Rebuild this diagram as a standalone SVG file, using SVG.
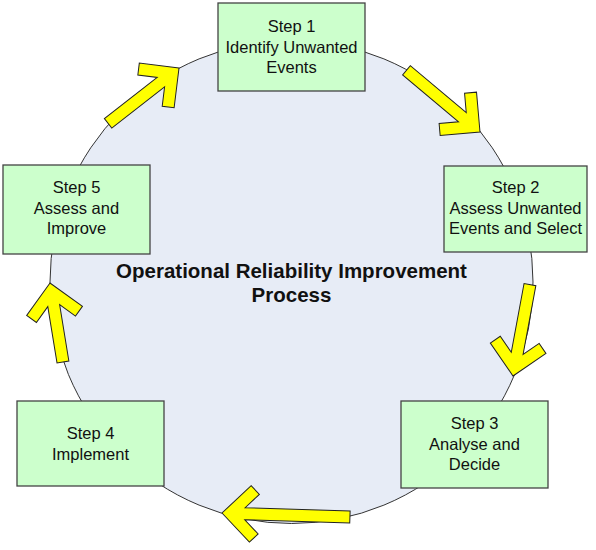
<svg xmlns="http://www.w3.org/2000/svg" width="596" height="550" viewBox="0 0 596 550">
<style>
.bg{fill:#e7ecf6;stroke:#333;stroke-width:1}
.box{fill:#ccffcc;stroke:#444;stroke-width:1.3}
.arr{fill:#ffff00;stroke:#222;stroke-width:1;stroke-linejoin:miter}
.t{font-family:"Liberation Sans",Arial,sans-serif;font-size:16.5px;fill:#111;text-anchor:middle}
.title{font-family:"Liberation Sans",Arial,sans-serif;font-size:20.5px;font-weight:bold;fill:#111;text-anchor:middle}
</style>
<rect width="596" height="550" fill="#ffffff"/>
<g id="process">
<circle class="bg" cx="291.5" cy="282" r="241.5"/>
<text class="title" x="291.5" y="278">Operational Reliability Improvement</text>
<text class="title" x="291.5" y="302">Process</text>
</g>
<g id="connectors">
<polygon class="arr" transform="translate(480,132) rotate(40)" points="0,0 -28.28,-28.28 -36.77,-19.8 -22.97,-6 -96,-6 -96,6 -22.97,6 -36.77,19.8 -28.28,28.28"/>
<polygon class="arr" transform="translate(513,376) rotate(100.5)" points="0,0 -28.28,-28.28 -36.77,-19.8 -22.97,-6 -93,-6 -93,6 -22.97,6 -36.77,19.8 -28.28,28.28"/>
<polygon class="arr" transform="translate(222,513) rotate(181.8)" points="0,0 -28.28,-28.28 -36.77,-19.8 -22.97,-6 -128,-6 -128,6 -22.97,6 -36.77,19.8 -28.28,28.28"/>
<polygon class="arr" transform="translate(50,283) rotate(260.7)" points="0,0 -28.28,-28.28 -36.77,-19.8 -22.97,-6 -80,-6 -80,6 -22.97,6 -36.77,19.8 -28.28,28.28"/>
<polygon class="arr" transform="translate(179,68) rotate(-38)" points="0,0 -28.28,-28.28 -36.77,-19.8 -22.97,-6 -90,-6 -90,6 -22.97,6 -36.77,19.8 -28.28,28.28"/>
</g>
<g id="step1">
<rect class="box" x="218" y="3" width="147" height="88"/>
<text class="t" x="291.5" y="32">Step 1</text>
<text class="t" x="291.5" y="53">Identify Unwanted</text>
<text class="t" x="291.5" y="73">Events</text>
</g>
<g id="step2">
<rect class="box" x="444" y="166" width="143" height="86"/>
<text class="t" x="515.5" y="193">Step 2</text>
<text class="t" x="515.5" y="214">Assess Unwanted</text>
<text class="t" x="515.5" y="234">Events and Select</text>
</g>
<g id="step3">
<rect class="box" x="401" y="401" width="147" height="87"/>
<text class="t" x="474.5" y="429">Step 3</text>
<text class="t" x="474.5" y="450">Analyse and</text>
<text class="t" x="474.5" y="470">Decide</text>
</g>
<g id="step4">
<rect class="box" x="17" y="401" width="147" height="85"/>
<text class="t" x="90.5" y="439">Step 4</text>
<text class="t" x="90.5" y="460">Implement</text>
</g>
<g id="step5">
<rect class="box" x="3" y="165" width="147" height="89"/>
<text class="t" x="76.5" y="193">Step 5</text>
<text class="t" x="76.5" y="214">Assess and</text>
<text class="t" x="76.5" y="234">Improve</text>
</g>
</svg>
